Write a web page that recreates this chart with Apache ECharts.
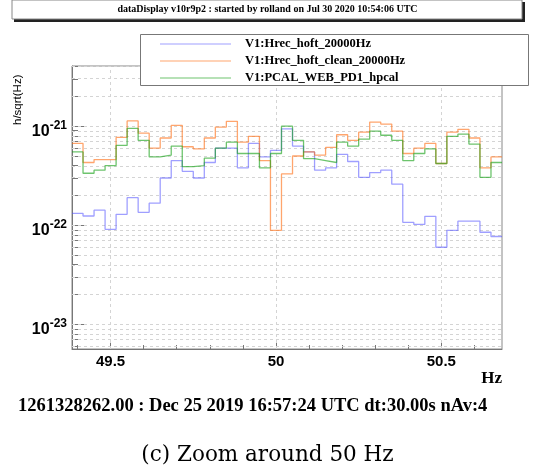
<!DOCTYPE html>
<html>
<head>
<meta charset="utf-8">
<script src="https://cdn.jsdelivr.net/npm/echarts@6/dist/echarts.min.js"></script>
<style>html,body{margin:0;padding:0;background:#fff}#c{width:535px;height:472px}</style>
</head>
<body>
<div id="c"></div>
<script>
// ---- data (bin centres in Hz, amplitude spectral density in h/sqrt(Hz)) ----
const freqHz = [49.4, 49.43333, 49.46667, 49.5, 49.53333, 49.56667, 49.6, 49.63333, 49.66667, 49.7,
  49.73333, 49.76667, 49.8, 49.83333, 49.86667, 49.9, 49.93333, 49.96667, 50.0, 50.03333,
  50.06667, 50.1, 50.13333, 50.16667, 50.2, 50.23333, 50.26667, 50.3, 50.33333, 50.36667,
  50.4, 50.43333, 50.46667, 50.5, 50.53333, 50.56667, 50.6, 50.63333, 50.66667];
const hrecHoft = [1.32e-22, 1.24e-22, 1.42e-22, 9.1e-23, 1.29e-22, 1.9e-22, 1.35e-22, 1.67e-22, 3.0e-22, 4.5e-22,
  3.5e-22, 3.0e-22, 4.3e-22, 6.0e-22, 6.0e-22, 3.8e-22, 6.7e-22, 4.9e-22, 5.7e-22, 9.4e-22,
  6.3e-22, 5.5e-22, 3.6e-22, 3.8e-22, 5.2e-22, 4.4e-22, 3.05e-22, 3.4e-22, 3.6e-22, 2.6e-22,
  1.07e-22, 1.02e-22, 1.23e-22, 6.0e-23, 8.9e-23, 1.10e-22, 1.10e-22, 8.5e-23, 7.7e-23];
const hrecHoftClean = [6.7e-22, 4.3e-22, 4.6e-22, 4.6e-22, 7.7e-22, 1.13e-21, 8.5e-22, 6.0e-22, 7.6e-22, 1.02e-21,
  6.2e-22, 5.9e-22, 7.6e-22, 9.8e-22, 1.12e-21, 6.9e-22, 7.9e-22, 4.5e-22, 8.9e-23, 3.3e-22,
  5.0e-22, 5.5e-22, 5.1e-22, 6.1e-22, 8.2e-22, 7.2e-22, 8.7e-22, 1.10e-21, 1.05e-21, 8.9e-22,
  5.3e-22, 6.0e-22, 6.7e-22, 4.2e-22, 8.7e-22, 9.3e-22, 7.6e-22, 3.8e-22, 4.9e-22];
const pcalWebPd1 = [5.5e-22, 3.35e-22, 3.6e-22, 4.0e-22, 6.4e-22, 9.5e-22, 7.2e-22, 4.9e-22, 5.1e-22, 6.3e-22,
  3.9e-22, 4.0e-22, 4.75e-22, 6.0e-22, 6.9e-22, 5.3e-22, 5.3e-22, 3.8e-22, 5.3e-22, 1.0e-21,
  7.2e-22, 4.7e-22, 4.5e-22, 4.3e-22, 6.9e-22, 6.3e-22, 7.4e-22, 8.9e-22, 8.1e-22, 7.2e-22,
  4.5e-22, 5.3e-22, 5.9e-22, 4.2e-22, 7.9e-22, 8.3e-22, 6.6e-22, 3.05e-22, 4.3e-22];
const seriesNames = ['V1:Hrec_hoft_20000Hz', 'V1:Hrec_hoft_clean_20000Hz', 'V1:PCAL_WEB_PD1_hpcal'];
const xTickLabels = [49.5, 50, 50.5];
const xMinorTicks = [49.4, 49.6, 49.7, 49.8, 49.9, 50.1, 50.2, 50.3, 50.4, 50.6];
const yTickLabels = [1e-23, 1e-22, 1e-21];
const yMantissas = [2, 3, 4, 5, 6, 7, 8, 9];
const yMin = 5.64e-24, yMax = 4.05e-21;

// ---- derived helpers (y is plotted on a log10 scale) ----
const L = Math.log10;
const binW = freqHz[1] - freqHz[0];
const xMin = freqHz[0] - binW / 2, xMax = freqHz[freqHz.length - 1] + binW / 2;
function toSteps(vals) {
  const pts = freqHz.map((f, i) => [f - binW / 2, L(vals[i])]);
  pts.push([xMax, L(vals[vals.length - 1])]);
  return pts;
}
const yMinor = [];
[1e-24, 1e-23, 1e-22, 1e-21].forEach(p => yMantissas.forEach(m => {
  const v = m * p; if (v >= yMin && v <= yMax) yMinor.push(L(v));
}));
const yMajor = yTickLabels.map(L);
const gridLines = yMinor.concat(yMajor).map(v => ({ yAxis: v }))
  .concat(xTickLabels.map(v => ({ xAxis: v })));

const serifB = { fontFamily: 'Liberation Serif', fontWeight: 'bold', color: '#000' };
const colors = ['rgba(80,80,255,0.55)', 'rgba(255,110,20,0.62)', 'rgba(20,160,20,0.62)'];

const chart = echarts.init(document.getElementById('c'), null, { renderer: 'canvas' });
chart.setOption({
  animation: false,
  backgroundColor: '#fff',
  grid: { left: 72, right: 33, top: 66, bottom: 123, show: true, borderColor: '#888', borderWidth: 1, backgroundColor: 'transparent' },
  title: [
    { text: 'Hz', right: 33, top: 370, padding: 0, textStyle: Object.assign({ fontSize: 17 }, serifB) },
    { text: '1261328262.00 : Dec 25 2019 16:57:24 UTC dt:30.00s nAv:4', left: 18, top: 397, padding: 0,
      textStyle: Object.assign({ fontSize: 18.5 }, serifB) },
    { text: '(c) Zoom around 50 Hz', left: 'center', top: 444, padding: 0,
      textStyle: { fontFamily: 'DejaVu Serif', fontWeight: 'normal', fontSize: 21.5, color: '#000' } },
    { text: 'dataDisplay v10r9p2 : started by rolland on Jul 30 2020 10:54:06 UTC', left: 'center', top: 4, padding: 0,
      textStyle: Object.assign({ fontSize: 10 }, serifB) }
  ],
  graphic: [
    { type: 'rect', z: 0, shape: { x: 14, y: 2, width: 511, height: 20 }, style: { fill: '#222' } },
    { type: 'rect', z: 1, shape: { x: 12, y: 0, width: 510, height: 19 }, style: { fill: '#fff', stroke: '#888', lineWidth: 1 } },
    { type: 'rect', z: 10, shape: { x: 140.5, y: 34.5, width: 388, height: 51 }, style: { fill: '#fff', stroke: '#777', lineWidth: 1 } },
    { type: 'text', z: 10, x: 18, y: 125, rotation: Math.PI / 2,
      style: { text: 'h/sqrt(Hz)', fontFamily: 'Liberation Sans', fontSize: 11.5, fill: '#000', textAlign: 'left', textVerticalAlign: 'middle' } }
  ],
  legend: {
    z: 20, orient: 'vertical', left: 155, top: 32, itemWidth: 71, itemHeight: 1, itemGap: 3, icon: 'rect',
    selectedMode: false,
    textStyle: Object.assign({ fontSize: 12.5, lineHeight: 14, padding: [0, 0, 0, 9] }, serifB),
    data: seriesNames
  },
  xAxis: [
    { type: 'value', min: xMin, max: xMax,
      axisLine: { show: true, lineStyle: { color: '#777' } },
      axisTick: { show: true, inside: true, length: 9, customValues: xTickLabels, lineStyle: { color: '#777' } },
      axisLabel: { customValues: xTickLabels, margin: 5, fontFamily: 'Liberation Sans', fontWeight: 'bold', fontSize: 15, color: '#000' },
      splitLine: { show: false } },
    { type: 'value', min: xMin, max: xMax, position: 'bottom',
      axisLine: { show: false },
      axisTick: { show: true, inside: true, length: 4, customValues: xMinorTicks, lineStyle: { color: '#777' } },
      axisLabel: { show: false }, splitLine: { show: false } }
  ],
  yAxis: [
    { type: 'value', min: L(yMin), max: L(yMax),
      axisLine: { show: true, lineStyle: { color: '#777' } },
      axisTick: { show: true, inside: true, length: 12, customValues: yMajor, lineStyle: { color: '#777' } },
      axisLabel: { customValues: yMajor, margin: 5, padding: [7, 0, 0, 0],
        formatter: v => '{b|10}{s|' + Math.round(v) + '}',
        rich: {
          b: { fontFamily: 'Liberation Sans', fontWeight: 'bold', fontSize: 16, lineHeight: 20, verticalAlign: 'bottom', color: '#000' },
          s: { fontFamily: 'Liberation Sans', fontWeight: 'bold', fontSize: 12, lineHeight: 20, verticalAlign: 'top', color: '#000' }
        } },
      splitLine: { show: false } },
    { type: 'value', min: L(yMin), max: L(yMax), position: 'left',
      axisLine: { show: false },
      axisTick: { show: true, inside: true, length: 6, customValues: yMinor, lineStyle: { color: '#777' } },
      axisLabel: { show: false }, splitLine: { show: false } }
  ],
  series: [
    { name: seriesNames[0], type: 'line', step: 'end', showSymbol: false, symbol: 'none', color: colors[0],
      lineStyle: { width: 1.3, color: colors[0] }, data: toSteps(hrecHoft), z: 3,
      markLine: { z: 1, silent: true, symbol: ['none', 'none'], animation: false, label: { show: false },
        lineStyle: { type: [3, 3], color: '#d4d4d4', width: 1 }, emphasis: { disabled: true }, data: gridLines } },
    { name: seriesNames[1], type: 'line', step: 'end', showSymbol: false, symbol: 'none', color: colors[1],
      lineStyle: { width: 1.3, color: colors[1] }, data: toSteps(hrecHoftClean), z: 3 },
    { name: seriesNames[2], type: 'line', step: 'end', showSymbol: false, symbol: 'none', color: colors[2],
      lineStyle: { width: 1.3, color: colors[2] }, data: toSteps(pcalWebPd1), z: 3 }
  ]
});
</script>
</body>
</html>
